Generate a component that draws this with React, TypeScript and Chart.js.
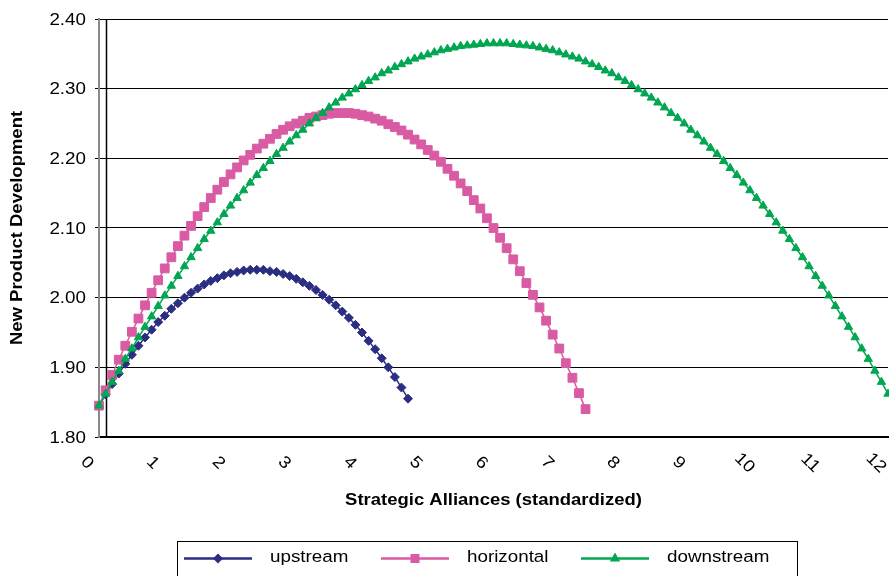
import React, { useEffect, useRef } from "react";
import { Chart, registerables } from "chart.js";

Chart.register(...registerables);

// x positions of the plotted points (Strategic Alliances, standardized)
const X_VALUES = [
  0.0, 0.1, 0.2, 0.3, 0.4, 0.5, 0.6, 0.7, 0.8, 0.9,
  1.0, 1.1, 1.2, 1.3, 1.4, 1.5, 1.6, 1.7, 1.8, 1.9,
  2.0, 2.1, 2.2, 2.3, 2.4, 2.5, 2.6, 2.7, 2.8, 2.9,
  3.0, 3.1, 3.2, 3.3, 3.4, 3.5, 3.6, 3.7, 3.8, 3.9,
  4.0, 4.1, 4.2, 4.3, 4.4, 4.5, 4.6, 4.7, 4.8, 4.9,
  5.0, 5.1, 5.2, 5.3, 5.4, 5.5, 5.6, 5.7, 5.8, 5.9,
  6.0, 6.1, 6.2, 6.3, 6.4, 6.5, 6.6, 6.7, 6.8, 6.9,
  7.0, 7.1, 7.2, 7.3, 7.4, 7.5, 7.6, 7.7, 7.8, 7.9,
  8.0, 8.1, 8.2, 8.3, 8.4, 8.5, 8.6, 8.7, 8.8, 8.9,
  9.0, 9.1, 9.2, 9.3, 9.4, 9.5, 9.6, 9.7, 9.8, 9.9,
  10.0, 10.1, 10.2, 10.3, 10.4, 10.5, 10.6, 10.7, 10.8, 10.9,
  11.0, 11.1, 11.2, 11.3, 11.4, 11.5, 11.6, 11.7, 11.8, 11.9,
  12.0,
];

const UPSTREAM = [
  1.845, 1.861, 1.876, 1.891, 1.905, 1.918, 1.931, 1.943, 1.954, 1.965,
  1.974, 1.984, 1.992, 2.000, 2.007, 2.013, 2.019, 2.024, 2.028, 2.032,
  2.035, 2.037, 2.039, 2.040, 2.040, 2.040, 2.038, 2.037, 2.034, 2.031,
  2.027, 2.022, 2.017, 2.011, 2.004, 1.997, 1.989, 1.980, 1.971, 1.961,
  1.950, 1.938, 1.926, 1.913, 1.900, 1.886, 1.871, 1.855,
];

const HORIZONTAL = [
  1.845, 1.867, 1.889, 1.911, 1.931, 1.951, 1.970, 1.989, 2.007, 2.025,
  2.042, 2.058, 2.074, 2.089, 2.103, 2.117, 2.130, 2.143, 2.155, 2.166,
  2.177, 2.187, 2.197, 2.205, 2.214, 2.221, 2.228, 2.235, 2.241, 2.246,
  2.250, 2.254, 2.258, 2.260, 2.262, 2.264, 2.265, 2.265, 2.265, 2.264,
  2.262, 2.260, 2.257, 2.254, 2.249, 2.245, 2.240, 2.234, 2.227, 2.220,
  2.212, 2.204, 2.195, 2.185, 2.175, 2.164, 2.153, 2.140, 2.128, 2.114,
  2.100, 2.086, 2.071, 2.055, 2.038, 2.021, 2.004, 1.986, 1.967, 1.947,
  1.927, 1.906, 1.885, 1.863, 1.840,
];

const DOWNSTREAM = [
  1.845, 1.862, 1.879, 1.895, 1.912, 1.927, 1.943, 1.958, 1.973, 1.988,
  2.003, 2.017, 2.031, 2.045, 2.058, 2.071, 2.084, 2.096, 2.108, 2.120,
  2.132, 2.143, 2.154, 2.165, 2.176, 2.186, 2.196, 2.206, 2.215, 2.224,
  2.233, 2.241, 2.250, 2.258, 2.265, 2.273, 2.280, 2.287, 2.293, 2.299,
  2.305, 2.311, 2.316, 2.322, 2.326, 2.331, 2.335, 2.339, 2.343, 2.346,
  2.349, 2.352, 2.355, 2.357, 2.359, 2.361, 2.362, 2.363, 2.364, 2.365,
  2.365, 2.365, 2.365, 2.364, 2.363, 2.362, 2.361, 2.359, 2.357, 2.355,
  2.352, 2.349, 2.346, 2.343, 2.339, 2.335, 2.331, 2.326, 2.322, 2.316,
  2.311, 2.305, 2.299, 2.293, 2.287, 2.280, 2.273, 2.265, 2.258, 2.250,
  2.241, 2.233, 2.224, 2.215, 2.206, 2.196, 2.186, 2.176, 2.165, 2.154,
  2.143, 2.132, 2.120, 2.108, 2.096, 2.084, 2.071, 2.058, 2.045, 2.031,
  2.017, 2.003, 1.988, 1.973, 1.958, 1.943, 1.927, 1.912, 1.895, 1.879,
  1.862,
];

const X_TICKS = [0, 1, 2, 3, 4, 5, 6, 7, 8, 9, 10, 11, 12];
const Y_TICKS = [1.8, 1.9, 2.0, 2.1, 2.2, 2.3, 2.4];
const SERIES_NAMES = ["upstream", "horizontal", "downstream"];
const X_TITLE = "Strategic Alliances (standardized)";
const Y_TITLE = "New Product Development";

const COLORS = ["#2B2E80", "#D95BA4", "#00A651"];
const MARKERS = ["rectRot", "rect", "triangle"];
const FONT = '"Liberation Sans", Arial, Helvetica, sans-serif';

function toPoints(ys: number[]) {
  return ys.map((y, i) => ({ x: X_VALUES[i], y }));
}

function stretchedText(
  ctx: CanvasRenderingContext2D,
  text: string,
  x: number,
  y: number,
  sx: number,
  rot: number
) {
  ctx.save();
  ctx.translate(x, y);
  ctx.rotate(rot);
  ctx.scale(sx, 1);
  ctx.fillText(text, 0, 0);
  ctx.restore();
}

function drawMarker(ctx: CanvasRenderingContext2D, style: string, x: number, y: number, color: string) {
  ctx.save();
  ctx.fillStyle = color;
  ctx.beginPath();
  if (style === "rectRot") {
    const r = 5;
    ctx.moveTo(x - r, y);
    ctx.lineTo(x, y - r);
    ctx.lineTo(x + r, y);
    ctx.lineTo(x, y + r);
  } else if (style === "rect") {
    const s = 4.5;
    ctx.rect(x - s, y - s, 2 * s, 2 * s);
  } else {
    const r = 6;
    ctx.moveTo(x, y - r);
    ctx.lineTo(x + r * 0.866, y + r * 0.5);
    ctx.lineTo(x - r * 0.866, y + r * 0.5);
  }
  ctx.closePath();
  ctx.fill();
  ctx.restore();
}

const decorPlugin = {
  id: "decor",
  beforeDatasetsDraw(chart: any) {
    const { ctx, chartArea, scales } = chart;
    const xs = scales.x;
    // secondary black vertical axis line
    const px = Math.round(xs.getPixelForValue(0.1)) + 0.5;
    ctx.save();
    ctx.strokeStyle = "#000";
    ctx.lineWidth = 1.5;
    ctx.beginPath();
    ctx.moveTo(px, chartArea.top);
    ctx.lineTo(px, chartArea.bottom);
    ctx.stroke();
    ctx.restore();
  },
  afterDraw(chart: any) {
    const { ctx, chartArea, scales } = chart;
    const xs = scales.x;
    const ys = scales.y;
    ctx.save();
    ctx.fillStyle = "#000";

    // y tick labels
    ctx.font = `16.8px ${FONT}`;
    ctx.textAlign = "right";
    ctx.textBaseline = "middle";
    Y_TICKS.forEach((t) => {
      stretchedText(ctx, t.toFixed(2), chartArea.left - 13, ys.getPixelForValue(t) + 1, 1.12, 0);
    });

    // x tick labels, rotated clockwise
    ctx.textAlign = "center";
    X_TICKS.forEach((t) => {
      const px = xs.getPixelForValue(t);
      stretchedText(ctx, String(t), px - 12, chartArea.bottom + 26, 1.12, Math.PI / 4);
    });

    // axis titles
    ctx.font = `bold 15.8px ${FONT}`;
    stretchedText(ctx, X_TITLE, (chartArea.left + chartArea.right) / 2, chartArea.bottom + 64, 1.17, 0);
    stretchedText(ctx, Y_TITLE, 18, (chartArea.top + chartArea.bottom) / 2, 1.17, -Math.PI / 2);

    // legend
    const boxL = 177.5, boxT = 541.5, boxR = 797.5;
    ctx.strokeStyle = "#000";
    ctx.lineWidth = 1;
    ctx.strokeRect(boxL, boxT, boxR - boxL, 60);
    const ly = 558.5;
    const starts = [184, 381, 581];
    ctx.font = `16.8px ${FONT}`;
    ctx.textAlign = "left";
    SERIES_NAMES.forEach((name, i) => {
      const x0 = starts[i];
      ctx.strokeStyle = COLORS[i];
      ctx.lineWidth = 2.5;
      ctx.beginPath();
      ctx.moveTo(x0, ly);
      ctx.lineTo(x0 + 68, ly);
      ctx.stroke();
      drawMarker(ctx, MARKERS[i], x0 + 34, ly, COLORS[i]);
      ctx.fillStyle = "#000";
      stretchedText(ctx, name, x0 + 86, ly - 1, 1.12, 0);
    });
    ctx.restore();
  },
};

export default function App() {
  const canvasRef = useRef<HTMLCanvasElement | null>(null);

  useEffect(() => {
    document.body.style.margin = "0";
    const canvas = canvasRef.current;
    if (!canvas) return;
    const datasets = [UPSTREAM, HORIZONTAL, DOWNSTREAM].map((ys, i) => ({
      label: SERIES_NAMES[i],
      data: toPoints(ys),
      borderColor: COLORS[i],
      backgroundColor: COLORS[i],
      borderWidth: 1.5,
      pointStyle: MARKERS[i],
      pointRadius: i === 0 ? 4.5 : i === 1 ? 6.2 : 4.8,
      pointBorderWidth: 1,
      pointBorderColor: COLORS[i],
      pointBackgroundColor: COLORS[i],
      showLine: true,
      tension: 0,
      clip: false,
      order: 2 - i,
    }));

    const chart = new Chart(canvas, {
      type: "scatter",
      data: { datasets },
      plugins: [decorPlugin],
      options: {
        animation: false,
        responsive: false,
        devicePixelRatio: 1,
        layout: { autoPadding: false, padding: { top: 19, right: 1, left: 0, bottom: 0 } },
        plugins: { legend: { display: false }, tooltip: { enabled: false } },
        scales: {
          x: {
            type: "linear",
            min: 0,
            max: 12,
            ticks: { display: false },
            grid: { display: false },
            border: { display: true, color: "#000", width: 2 },
            afterFit: (s: any) => {
              s.height = 139;
            },
          },
          y: {
            type: "linear",
            min: 1.8,
            max: 2.4,
            afterBuildTicks: (s: any) => {
              s.ticks = Y_TICKS.map((v) => ({ value: v }));
            },
            ticks: {
              color: "rgba(0,0,0,0)",
              font: { family: FONT, size: 15 },
              padding: 8,
              callback: (v: any) => Number(v).toFixed(2),
            },
            grid: { color: "#000", lineWidth: 1, tickLength: 4 },
            border: { display: true, color: "#8a8a8a", width: 2 },
            afterFit: (s: any) => {
              s.width = 99;
            },
          },
        },
      },
    } as any);
    return () => chart.destroy();
  }, []);

  return (
    <div style={{ width: 889, height: 576 }}>
      <canvas ref={canvasRef} width={889} height={576} />
    </div>
  );
}
